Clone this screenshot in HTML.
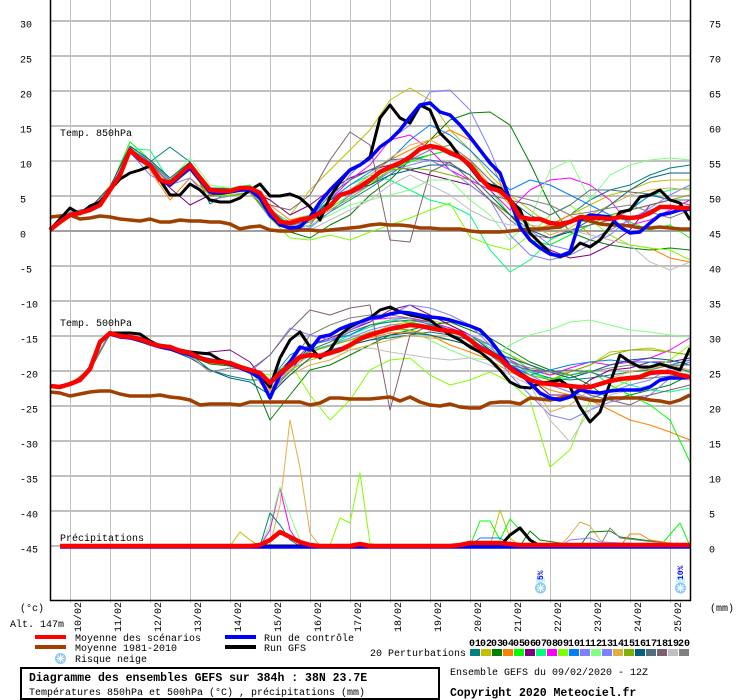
<!DOCTYPE html>
<html><head><meta charset="utf-8"><style>
html,body{margin:0;padding:0;background:#fff;width:740px;height:700px;overflow:hidden}
svg{display:block}
text{font-family:"Liberation Mono",monospace;font-size:10px;fill:#000}
</style></head><body>
<svg width="740" height="700" viewBox="0 0 740 700" xmlns="http://www.w3.org/2000/svg">
<rect width="740" height="700" fill="#fff"/>
<!-- vertical gridlines -->
<g stroke="#c0c0c0" stroke-width="1">
<line x1="70.5" y1="0" x2="70.5" y2="603"/><line x1="110.5" y1="0" x2="110.5" y2="603"/><line x1="150.5" y1="0" x2="150.5" y2="603"/><line x1="190.5" y1="0" x2="190.5" y2="603"/><line x1="230.5" y1="0" x2="230.5" y2="603"/><line x1="270.5" y1="0" x2="270.5" y2="603"/><line x1="310.5" y1="0" x2="310.5" y2="603"/><line x1="350.5" y1="0" x2="350.5" y2="603"/><line x1="390.5" y1="0" x2="390.5" y2="603"/><line x1="430.5" y1="0" x2="430.5" y2="603"/><line x1="470.5" y1="0" x2="470.5" y2="603"/><line x1="510.5" y1="0" x2="510.5" y2="603"/><line x1="550.5" y1="0" x2="550.5" y2="603"/><line x1="590.5" y1="0" x2="590.5" y2="603"/><line x1="630.5" y1="0" x2="630.5" y2="603"/><line x1="670.5" y1="0" x2="670.5" y2="603"/>
</g>
<!-- horizontal gridlines -->
<g stroke="#c0c0c0" stroke-width="2">
<line x1="51" y1="21" x2="690" y2="21"/><line x1="51" y1="56" x2="690" y2="56"/><line x1="51" y1="91" x2="690" y2="91"/><line x1="51" y1="126" x2="690" y2="126"/><line x1="51" y1="161" x2="690" y2="161"/><line x1="51" y1="196" x2="690" y2="196"/><line x1="51" y1="266" x2="690" y2="266"/><line x1="51" y1="301" x2="690" y2="301"/><line x1="51" y1="336" x2="690" y2="336"/><line x1="51" y1="371" x2="690" y2="371"/><line x1="51" y1="406" x2="690" y2="406"/><line x1="51" y1="441" x2="690" y2="441"/><line x1="51" y1="476" x2="690" y2="476"/><line x1="51" y1="511" x2="690" y2="511"/><line x1="51" y1="546" x2="690" y2="546"/>
</g>
<line x1="51" y1="231" x2="690" y2="231" stroke="#a0a0a0" stroke-width="2"/>

<!-- 850 hPa perturbations -->
<g fill="none" stroke-width="1" stroke-linejoin="round">
<polyline stroke="#008080" points="50,230 70,214 90,209 110,188 130,147 150,162 170,147 190,162 210,204 230,190 250,186 270,212 290,228 310,226 330,212 350,200 370,188 390,175 410,160 430,155 450,150 470,160 490,180 510,200 530,215 550,225 570,215 590,200 610,190 630,185 650,175 670,168 690,165"/>
<polyline stroke="#c0c000" points="50,231 70,214 90,210 110,190 130,150 150,165 170,186 190,168 210,193 230,193 250,190 270,200 290,215 310,190 330,170 350,150 370,130 390,100 410,88 430,100 450,130 470,150 490,175 510,195 530,210 550,225 570,215 590,205 610,195 630,190 650,182 670,180 690,180"/>
<polyline stroke="#008000" points="50,230 70,216 90,211 110,191 130,152 150,166 170,184 190,170 210,195 230,195 250,192 270,215 290,232 310,238 330,225 350,215 370,195 390,180 410,160 430,140 450,120 470,113 490,112 510,125 530,163 550,205 570,232 590,240 610,245 630,248 650,250 670,248 690,250"/>
<polyline stroke="#ff8000" points="50,229 70,213 90,208 110,186 130,150 150,170 170,200 190,178 210,195 230,192 250,190 270,205 290,220 310,215 330,205 350,190 370,175 390,160 410,150 430,140 450,130 470,140 490,160 510,205 530,230 550,225 570,215 590,235 610,240 630,245 650,248 670,258 690,262"/>
<polyline stroke="#00ff00" points="50,229 70,212 90,209 110,188 130,142 150,160 170,180 190,163 210,188 230,188 250,185 270,212 290,225 310,222 330,208 350,195 370,183 390,170 410,162 430,155 450,150 470,160 490,190 510,215 530,240 550,245 570,235 590,225 610,215 630,222 650,230 670,225 690,238"/>
<polyline stroke="#800080" points="50,230 70,214 90,211 110,190 130,150 150,168 170,188 190,205 210,195 230,192 250,190 270,200 290,215 310,205 330,190 350,178 370,170 390,165 410,170 430,175 450,180 470,185 490,200 510,215 530,235 550,250 570,258 590,255 610,245 630,230 650,205 670,200 690,200"/>
<polyline stroke="#00ff80" points="50,229 70,212 90,209 110,188 130,149 150,150 170,182 190,164 210,188 230,189 250,185 270,210 290,222 310,215 330,200 350,185 370,175 390,180 410,190 430,200 450,205 470,215 490,250 510,272 530,260 550,240 570,230 590,225 610,220 630,208 650,196 670,190 690,188"/>
<polyline stroke="#ff00ff" points="50,230 70,214 90,210 110,189 130,148 150,162 170,184 190,164 210,192 230,192 250,190 270,212 290,230 310,225 330,200 350,180 370,165 390,140 410,135 430,150 450,170 470,180 490,190 510,210 530,190 550,180 570,178 590,185 610,200 630,225 650,220 670,210 690,200"/>
<polyline stroke="#80ff00" points="50,230 70,215 90,210 110,191 130,152 150,168 170,186 190,170 210,196 230,195 250,192 270,218 290,238 310,240 330,235 350,240 370,232 390,225 410,218 430,210 450,203 470,237 490,245 510,250 530,235 550,215 570,205 590,220 610,235 630,245 650,248 670,250 690,260"/>
<polyline stroke="#0080ff" points="50,229 70,213 90,209 110,188 130,148 150,163 170,183 190,166 210,190 230,190 250,188 270,215 290,226 310,218 330,200 350,185 370,172 390,160 410,140 430,125 450,135 470,150 490,170 510,190 530,180 550,185 570,195 590,205 610,215 630,210 650,195 670,200 690,200"/>
<polyline stroke="#8080ff" points="50,229 70,212 90,208 110,189 130,152 150,175 170,185 190,178 210,200 230,196 250,192 270,218 290,230 310,220 330,200 350,175 370,155 390,140 410,125 430,92 450,90 470,110 490,150 510,200 530,230 550,245 570,250 590,240 610,230 630,220 650,208 670,195 690,185"/>
<polyline stroke="#80ff80" points="50,230 70,214 90,209 110,188 130,148 150,160 170,180 190,158 210,185 230,188 250,186 270,215 290,232 310,225 330,215 350,205 370,200 390,195 410,190 430,180 450,180 470,200 490,215 510,240 530,220 550,170 570,160 590,200 610,175 630,165 650,160 670,158 690,160"/>
<polyline stroke="#7f7fff" points="50,230 70,213 90,210 110,190 130,150 150,164 170,182 190,165 210,190 230,191 250,188 270,215 290,230 310,228 330,212 350,195 370,185 390,172 410,165 430,160 450,170 470,185 490,200 510,235 530,255 550,260 570,255 590,245 610,235 630,218 650,210 670,205 690,210"/>
<polyline stroke="#e0b040" points="50,230 70,214 90,209 110,189 130,149 150,165 170,185 190,168 210,192 230,193 250,190 270,212 290,226 310,220 330,205 350,190 370,175 390,158 410,145 430,140 450,150 470,160 490,185 510,205 530,225 550,235 570,228 590,215 610,205 630,195 650,190 670,188 690,190"/>
<polyline stroke="#80b000" points="50,230 70,215 90,211 110,191 130,152 150,168 170,187 190,170 210,196 230,196 250,193 270,216 290,228 310,222 330,210 350,198 370,185 390,170 410,168 430,170 450,175 470,180 490,200 510,215 530,225 550,228 570,220 590,218 610,215 630,210 650,205 670,200 690,195"/>
<polyline stroke="#006080" points="50,229 70,213 90,208 110,187 130,146 150,160 170,178 190,162 210,188 230,189 250,187 270,213 290,229 310,220 330,200 350,190 370,185 390,175 410,170 430,165 450,165 470,175 490,195 510,215 530,230 550,238 570,232 590,220 610,205 630,190 650,178 670,173 690,173"/>
<polyline stroke="#507080" points="50,230 70,214 90,209 110,190 130,150 150,162 170,180 190,165 210,192 230,192 250,188 270,210 290,225 310,218 330,195 350,180 370,170 390,160 410,158 430,160 450,163 470,175 490,195 510,200 530,205 550,215 570,205 590,190 610,190 630,192 650,194 670,200 690,200"/>
<polyline stroke="#806070" points="50,230 70,214 90,210 110,190 130,150 150,164 170,184 190,168 210,193 230,193 250,190 270,205 290,210 310,195 330,160 350,132 370,145 390,240 410,242 430,172 450,162 470,180 490,200 510,220 530,235 550,238 570,230 590,225 610,220 630,210 650,205 670,200 690,205"/>
<polyline stroke="#c0c0c0" points="50,229 70,213 90,209 110,189 130,149 150,165 170,185 190,168 210,193 230,193 250,190 270,214 290,232 310,230 330,220 350,210 370,200 390,185 410,175 430,185 450,195 470,210 490,220 510,225 530,225 550,228 570,230 590,235 610,240 630,245 650,262 670,270 690,262"/>
<polyline stroke="#808080" points="50,230 70,214 90,210 110,190 130,150 150,163 170,183 190,166 210,191 230,191 250,189 270,212 290,226 310,220 330,205 350,190 370,178 390,168 410,160 430,150 450,145 470,160 490,180 510,195 530,200 550,205 570,215 590,212 610,208 630,205 650,212 670,218 690,210"/>
</g>

<!-- 500 hPa perturbations -->
<g fill="none" stroke-width="1" stroke-linejoin="round">
<polyline stroke="#008080" points="50,386 70,384 90,369 110,334 130,338 150,343 170,347 190,354 210,370 230,376 250,380 270,380 290,360 310,355 330,352 350,345 370,340 390,338 410,335 430,332 450,335 470,340 490,350 510,362 530,372 550,378 570,380 590,378 610,375 630,372 650,370 670,365 690,372"/>
<polyline stroke="#c0c000" points="50,386 70,384 90,368 110,333 130,337 150,342 170,346 190,352 210,360 230,362 250,368 270,395 290,370 310,360 330,355 350,348 370,335 390,325 410,322 430,320 450,325 470,335 490,345 510,355 530,365 550,375 570,372 590,365 610,352 630,350 650,348 670,352 690,355"/>
<polyline stroke="#008000" points="50,387 70,385 90,370 110,334 130,338 150,345 170,349 190,356 210,364 230,366 250,372 270,420 290,395 310,370 330,365 350,355 370,345 390,335 410,330 430,325 450,322 470,330 490,338 510,350 530,362 550,370 570,375 590,385 610,400 630,395 650,390 670,385 690,375"/>
<polyline stroke="#ff8000" points="50,386 70,384 90,369 110,333 130,337 150,343 170,347 190,353 210,360 230,362 250,369 270,390 290,368 310,352 330,345 350,340 370,338 390,333 410,332 430,335 450,345 470,352 490,360 510,372 530,380 550,390 570,395 590,400 610,410 630,420 650,425 670,432 690,440"/>
<polyline stroke="#00ff00" points="50,386 70,384 90,369 110,333 130,338 150,344 170,348 190,354 210,362 230,363 250,371 270,385 290,360 310,350 330,345 350,335 370,325 390,320 410,322 430,326 450,330 470,338 490,345 510,355 530,370 550,380 570,375 590,370 610,385 630,395 650,405 670,420 690,462"/>
<polyline stroke="#800080" points="50,386 70,385 90,370 110,334 130,338 150,343 170,348 190,355 210,352 230,350 250,362 270,388 290,372 310,345 330,338 350,330 370,322 390,310 410,305 430,315 450,325 470,335 490,350 510,365 530,378 550,395 570,395 590,380 610,370 630,368 650,362 670,362 690,358"/>
<polyline stroke="#00ff80" points="50,386 70,384 90,369 110,333 130,337 150,343 170,347 190,353 210,361 230,363 250,370 270,380 290,362 310,350 330,345 350,335 370,327 390,320 410,318 430,322 450,328 470,335 490,348 510,362 530,372 550,380 570,378 590,372 610,378 630,385 650,390 670,392 690,388"/>
<polyline stroke="#ff00ff" points="50,386 70,384 90,369 110,333 130,337 150,342 170,346 190,352 210,360 230,362 250,370 270,395 290,365 310,345 330,340 350,330 370,320 390,318 410,318 430,322 450,328 470,335 490,345 510,360 530,370 550,375 570,368 590,362 610,365 630,362 650,358 670,350 690,338"/>
<polyline stroke="#80ff00" points="50,387 70,385 90,370 110,334 130,339 150,344 170,349 190,355 210,363 230,365 250,372 270,375 290,363 310,395 330,420 350,400 370,370 390,360 410,358 430,375 450,385 470,380 490,372 510,382 530,400 550,467 570,450 590,400 610,390 630,380 650,370 670,360 690,345"/>
<polyline stroke="#0080ff" points="50,386 70,384 90,369 110,333 130,337 150,343 170,347 190,353 210,360 230,362 250,369 270,380 290,355 310,345 330,340 350,335 370,325 390,322 410,320 430,324 450,330 470,338 490,352 510,365 530,375 550,370 570,365 590,362 610,360 630,362 650,362 670,365 690,360"/>
<polyline stroke="#8080ff" points="50,386 70,384 90,369 110,333 130,337 150,343 170,347 190,353 210,361 230,364 250,372 270,355 290,328 310,335 330,340 350,330 370,320 390,315 410,305 430,308 450,315 470,325 490,345 510,375 530,395 550,415 570,420 590,410 610,402 630,398 650,395 670,378 690,380"/>
<polyline stroke="#80ff80" points="50,386 70,384 90,369 110,333 130,337 150,343 170,347 190,353 210,361 230,363 250,370 270,385 290,365 310,350 330,345 350,340 370,335 390,330 410,330 430,340 450,350 470,358 490,360 510,345 530,335 550,330 570,322 590,320 610,325 630,330 650,332 670,335 690,337"/>
<polyline stroke="#7f7fff" points="50,386 70,384 90,369 110,333 130,337 150,343 170,347 190,353 210,361 230,364 250,371 270,392 290,372 310,352 330,345 350,338 370,330 390,325 410,325 430,328 450,330 470,335 490,345 510,360 530,375 550,385 570,392 590,398 610,392 630,385 650,380 670,368 690,362"/>
<polyline stroke="#e0b040" points="50,386 70,384 90,369 110,333 130,337 150,343 170,347 190,353 210,361 230,364 250,372 270,392 290,375 310,365 330,360 350,350 370,345 390,340 410,335 430,338 450,340 470,345 490,355 510,365 530,380 550,412 570,405 590,390 610,378 630,372 650,368 670,365 690,370"/>
<polyline stroke="#80b000" points="50,386 70,384 90,369 110,333 130,337 150,343 170,347 190,353 210,361 230,363 250,370 270,388 290,372 310,352 330,346 350,340 370,332 390,328 410,330 430,335 450,340 470,345 490,355 510,368 530,375 550,380 570,372 590,365 610,355 630,350 650,350 670,352 690,355"/>
<polyline stroke="#006080" points="50,386 70,384 90,370 110,334 130,339 150,345 170,350 190,358 210,370 230,378 250,382 270,395 290,375 310,358 330,350 350,345 370,340 390,335 410,333 430,335 450,340 470,345 490,352 510,358 530,365 550,372 570,378 590,372 610,365 630,360 650,358 670,360 690,365"/>
<polyline stroke="#507080" points="50,386 70,384 90,369 110,333 130,337 150,343 170,347 190,353 210,362 230,364 250,371 270,385 290,368 310,350 330,342 350,332 370,325 390,322 410,320 430,322 450,330 470,340 490,355 510,365 530,370 550,372 570,370 590,372 610,378 630,380 650,378 670,376 690,375"/>
<polyline stroke="#806070" points="50,386 70,384 90,369 110,333 130,337 150,343 170,347 190,353 210,361 230,363 250,370 270,355 290,330 310,310 330,315 350,308 370,305 390,410 410,335 430,325 450,330 470,340 490,355 510,370 530,380 550,382 570,385 590,395 610,400 630,405 650,395 670,390 690,385"/>
<polyline stroke="#c0c0c0" points="50,386 70,384 90,369 110,333 130,337 150,343 170,347 190,353 210,362 230,364 250,372 270,388 290,370 310,355 330,352 350,350 370,348 390,352 410,355 430,358 450,360 470,358 490,365 510,375 530,385 550,420 570,442 590,410 610,395 630,390 650,385 670,378 690,372"/>
<polyline stroke="#808080" points="50,386 70,384 90,369 110,333 130,337 150,343 170,347 190,356 210,372 230,368 250,370 270,385 290,365 310,335 330,325 350,318 370,315 390,315 410,318 430,325 450,335 470,345 490,355 510,362 530,368 550,372 570,375 590,372 610,368 630,365 650,370 670,365 690,365"/>
</g>

<!-- precipitation perturbations -->
<g fill="none" stroke-width="1" stroke-linejoin="round">
<polyline stroke="#e0b040" points="60,546 260,546 270,545 280,505 290,420 300,468 310,533 320,546 560,546 570,535 580,522 590,526 600,540 610,546 690,546"/>
<polyline stroke="#80ff00" points="60,546 320,546 330,545 340,518 350,523 360,473 370,543 380,546 690,546"/>
<polyline stroke="#ff00ff" points="60,546 260,546 270,530 280,488 290,530 300,545 690,546"/>
<polyline stroke="#80ff80" points="60,546 260,546 270,525 280,487 290,515 300,540 310,546 690,546"/>
<polyline stroke="#008080" points="60,546 260,546 270,513 280,525 290,540 300,546 690,546"/>
<polyline stroke="#c0c000" points="60,546 230,546 240,532 250,540 260,546 490,546 500,510 510,538 520,546 690,546"/>
<polyline stroke="#00ff00" points="60,546 470,546 480,521 490,521 500,540 510,519 520,530 530,540 540,546 660,546 680,523 690,546"/>
<polyline stroke="#0080ff" points="60,546 470,546 480,538 500,538 510,544 690,546"/>
<polyline stroke="#008000" points="60,546 520,546 530,531 540,540 580,546 590,532 610,531 620,537 690,546"/>
<polyline stroke="#ff8000" points="60,546 620,546 630,534 640,534 650,540 690,546"/>
<polyline stroke="#808080" points="60,546 600,546 610,528 620,538 690,546"/>
<polyline stroke="#8080ff" points="60,546 560,546 570,540 590,538 600,542 690,546"/>
</g>

<!-- climatology -->
<g fill="none" stroke="#a04000" stroke-width="3.5" stroke-linejoin="round">
<polyline points="50,217 60,216 70,215 80,219 90,218 100,216 110,217 120,219 130,220 140,221 150,219 160,222 170,222 180,220 190,221 200,221 210,222 220,222 230,224 240,229 250,227 260,226 270,230 280,231 290,231 300,230 310,230 320,231 330,230 340,229 350,228 360,227 370,225 380,224 390,225 400,225 410,226 420,228 430,228 440,229 450,229 460,229 470,231 480,232 490,232 500,232 510,231 520,230 530,229 540,229 550,228 560,227 570,222 580,219 590,221 600,224 610,225 620,225 630,226 640,228 650,228 660,227 670,228 680,229 690,229"/>
<polyline points="50,392 60,393 70,396 80,394 90,392 100,391 110,391 120,394 130,396 140,396 150,396 160,395 170,397 180,398 190,400 200,405 210,404 220,404 230,404 240,405 250,402 260,402 270,402 280,402 290,402 300,402 310,405 320,403 330,398 340,398 350,399 360,399 370,399 380,398 390,397 400,401 410,397 420,402 430,405 440,406 450,404 460,407 470,408 480,408 490,403 500,402 510,402 520,404 530,398 540,399 550,400 560,398 570,396 580,398 590,400 600,401 610,398 620,398 630,398 640,398 650,400 660,401 670,403 680,400 690,395"/>
</g>

<!-- GFS run (black) -->
<g fill="none" stroke="#000" stroke-width="3" stroke-linejoin="round">
<polyline points="50,230 60,219 70,208 80,214 90,206 100,202 110,190 120,179 130,173 140,170 150,166 160,180 170,195 180,195 190,184 200,190 210,200 220,202 230,202 240,198 250,190 260,184 270,196 280,196 290,194 300,198 310,207 320,220 330,197 340,182 350,170 360,165 370,157 380,118 390,105 400,118 410,123 420,105 430,110 440,133 450,143 460,157 470,167 480,180 490,185 500,188 510,200 520,210 530,233 540,243 550,253 560,257 570,253 580,243 590,247 600,240 610,227 620,212 630,210 640,197 650,195 660,190 670,200 680,203 690,220"/>
<polyline points="50,386 60,387 70,384 80,380 90,368 100,341 110,333 120,333 130,333 140,334 150,341 160,346 170,348 180,350 190,352 200,353 210,354 220,360 230,363 240,367 250,370 260,375 270,387 280,358 290,340 300,332 310,347 320,358 330,350 340,335 350,327 360,322 370,318 380,310 390,307 400,312 410,315 420,317 430,320 440,328 450,335 460,340 470,347 480,352 490,360 500,370 510,382 520,387 530,388 540,383 550,382 560,380 570,387 580,407 590,422 600,412 610,383 620,355 630,362 640,367 650,367 660,364 670,367 680,370 690,348"/>
<polyline points="60,546 500,546 510,535 520,528 530,540 540,546 690,546"/>
</g>

<!-- control run (blue) -->
<g fill="none" stroke="#0000ff" stroke-width="3.5" stroke-linejoin="round">
<polyline points="50,229 60,222 70,215 80,213 90,209 100,205 110,190 120,174 130,151 140,160 150,165 160,180 170,185 180,176 190,168 200,180 210,192 220,193 230,192 240,190 250,190 260,198 270,215 280,225 290,228 300,227 310,217 320,202 330,190 340,180 350,170 360,165 370,158 380,147 390,140 400,130 410,117 420,105 430,103 440,112 450,115 460,125 470,137 480,150 490,163 500,173 510,200 520,227 530,240 540,248 550,254 560,256 570,252 580,220 590,215 600,216 610,217 620,227 630,233 640,232 650,223 660,215 670,213 680,210 690,209"/>
<polyline points="50,386 60,387 70,384 80,380 90,368 100,342 110,334 120,337 130,338 140,340 150,344 160,347 170,349 180,352 190,355 200,358 210,360 220,362 230,364 240,368 250,372 260,378 270,398 280,375 290,362 300,347 310,350 320,337 330,335 340,329 350,325 360,322 370,318 380,317 390,314 400,312 410,313 420,315 430,317 440,318 450,320 460,323 470,326 480,330 490,340 500,353 510,367 520,373 530,383 540,393 550,398 560,400 570,397 580,390 590,392 600,393 610,391 620,390 630,390 640,390 650,387 660,380 670,378 680,378 690,377"/>
<polyline points="60,547 690,547"/>
</g>

<!-- ensemble mean (red) -->
<g fill="none" stroke="#ff0000" stroke-width="4.5" stroke-linejoin="round">
<polyline points="50,230 60,222 70,215 80,213 90,210 100,205 110,190 120,175 130,150 140,159 150,165 160,180 170,183 180,174 190,165 200,178 210,190 220,191 230,191 240,188 250,188 260,193 270,210 280,222 290,223 300,220 310,218 320,213 330,206 340,195 350,192 360,187 370,180 380,172 390,167 400,163 410,157 420,149 430,146 440,148 450,153 460,157 470,165 480,178 490,188 500,191 510,200 520,217 530,219 540,219 550,223 560,224 570,222 580,217 590,218 600,218 610,219 620,217 630,218 640,217 650,213 660,207 670,207 680,208 690,208"/>
<polyline points="50,386 60,387 70,384 80,380 90,369 100,342 110,333 120,336 130,337 140,339 150,343 160,346 170,347 180,351 190,353 200,358 210,361 220,362 230,363 240,367 250,370 260,373 270,383 280,373 290,365 300,357 310,355 320,356 330,353 340,350 350,345 360,339 370,335 380,332 390,329 400,327 410,325 420,326 430,328 440,330 450,331 460,333 470,340 480,348 490,353 500,358 510,368 520,375 530,380 540,383 550,384 560,385 570,386 580,387 590,387 600,384 610,381 620,379 630,378 640,377 650,373 660,372 670,372 680,375 690,377"/>
<polyline points="60,546 250,546 260,545 270,540 280,532 290,537 300,542 310,545 320,546 350,546 360,544 370,546 450,546 460,545 470,543 500,543 510,544 520,545 560,545 690,545"/>
</g>

<!-- axes -->
<line x1="50.5" y1="0" x2="50.5" y2="601" stroke="#000" stroke-width="1.5"/>
<line x1="690.5" y1="0" x2="690.5" y2="601" stroke="#000" stroke-width="1.5"/>
<line x1="50" y1="600.5" x2="691" y2="600.5" stroke="#000" stroke-width="1.5"/>

<!-- panel titles -->
<text x="60" y="136">Temp. 850hPa</text>
<text x="60" y="326">Temp. 500hPa</text>
<text x="60" y="541">Précipitations</text>

<!-- left axis labels -->
<g>
<text x="20" y="27.5">30</text><text x="20" y="62.5">25</text><text x="20" y="97.5">20</text><text x="20" y="132.5">15</text><text x="20" y="167.5">10</text><text x="20" y="202.5">5</text><text x="20" y="237.5">0</text><text x="20" y="272.5">-5</text><text x="20" y="307.5">-10</text><text x="20" y="342.5">-15</text><text x="20" y="377.5">-20</text><text x="20" y="412.5">-25</text><text x="20" y="447.5">-30</text><text x="20" y="482.5">-35</text><text x="20" y="517.5">-40</text><text x="20" y="552.5">-45</text>
</g>
<!-- right axis labels -->
<g>
<text x="709" y="27.5">75</text><text x="709" y="62.5">70</text><text x="709" y="97.5">65</text><text x="709" y="132.5">60</text><text x="709" y="167.5">55</text><text x="709" y="202.5">50</text><text x="709" y="237.5">45</text><text x="709" y="272.5">40</text><text x="709" y="307.5">35</text><text x="709" y="342.5">30</text><text x="709" y="377.5">25</text><text x="709" y="412.5">20</text><text x="709" y="447.5">15</text><text x="709" y="482.5">10</text><text x="709" y="517.5">5</text><text x="709" y="552.5">0</text>
</g>

<!-- date labels -->
<g text-anchor="end">
<text transform="translate(81,602) rotate(-90)">10/02</text>
<text transform="translate(121,602) rotate(-90)">11/02</text>
<text transform="translate(161,602) rotate(-90)">12/02</text>
<text transform="translate(201,602) rotate(-90)">13/02</text>
<text transform="translate(241,602) rotate(-90)">14/02</text>
<text transform="translate(281,602) rotate(-90)">15/02</text>
<text transform="translate(321,602) rotate(-90)">16/02</text>
<text transform="translate(361,602) rotate(-90)">17/02</text>
<text transform="translate(401,602) rotate(-90)">18/02</text>
<text transform="translate(441,602) rotate(-90)">19/02</text>
<text transform="translate(481,602) rotate(-90)">20/02</text>
<text transform="translate(521,602) rotate(-90)">21/02</text>
<text transform="translate(561,602) rotate(-90)">22/02</text>
<text transform="translate(601,602) rotate(-90)">23/02</text>
<text transform="translate(641,602) rotate(-90)">24/02</text>
<text transform="translate(681,602) rotate(-90)">25/02</text>
</g>

<text x="20" y="611">(°c)</text>
<text x="10" y="627">Alt. 147m</text>
<text x="710" y="611">(mm)</text>

<!-- snow risk icons -->
<rect x="536" y="578" width="9" height="5" fill="#c8f4ff"/>
<text transform="translate(543,580) rotate(-90)" style="font-size:8px;font-weight:bold;fill:#0000ff">5%</text>
<g transform="translate(540.5,588)">
<circle r="5.5" fill="#8cc8f0"/>
<g stroke="#fff" stroke-width="1"><line x1="-4" y1="0" x2="4" y2="0"/><line x1="0" y1="-4" x2="0" y2="4"/><line x1="-3" y1="-3" x2="3" y2="3"/><line x1="-3" y1="3" x2="3" y2="-3"/></g>
</g>
<rect x="676" y="578" width="9" height="5" fill="#c8f4ff"/>
<text transform="translate(683,580) rotate(-90)" style="font-size:8px;font-weight:bold;fill:#0000ff">10%</text>
<g transform="translate(680.5,588)">
<circle r="5.5" fill="#8cc8f0"/>
<g stroke="#fff" stroke-width="1"><line x1="-4" y1="0" x2="4" y2="0"/><line x1="0" y1="-4" x2="0" y2="4"/><line x1="-3" y1="-3" x2="3" y2="3"/><line x1="-3" y1="3" x2="3" y2="-3"/></g>
</g>

<!-- legend -->
<rect x="35" y="635" width="31" height="4" fill="#ff0000"/>
<text x="75" y="641">Moyenne des scénarios</text>
<rect x="35" y="645" width="31" height="4" fill="#a04000"/>
<text x="75" y="651">Moyenne 1981-2010</text>
<g transform="translate(60.5,658.5)">
<circle r="5.5" fill="#8cc8f0"/>
<g stroke="#fff" stroke-width="1"><line x1="-4" y1="0" x2="4" y2="0"/><line x1="0" y1="-4" x2="0" y2="4"/><line x1="-3" y1="-3" x2="3" y2="3"/><line x1="-3" y1="3" x2="3" y2="-3"/></g>
</g>
<text x="75" y="662">Risque neige</text>
<rect x="225" y="635" width="31" height="4" fill="#0000ff"/>
<text x="264" y="641">Run de contrôle</text>
<rect x="225" y="645" width="31" height="4" fill="#000"/>
<text x="264" y="651">Run GFS</text>

<text x="370" y="656">20 Perturbations</text>
<g style="font-size:7px;font-weight:bold" text-anchor="middle">
<text x="475" y="646">01</text><text x="486" y="646">02</text><text x="497" y="646">03</text><text x="508" y="646">04</text><text x="519" y="646">05</text><text x="530" y="646">06</text><text x="541" y="646">07</text><text x="552" y="646">08</text><text x="563" y="646">09</text><text x="574" y="646">10</text><text x="585" y="646">11</text><text x="596" y="646">12</text><text x="607" y="646">13</text><text x="618" y="646">14</text><text x="629" y="646">15</text><text x="640" y="646">16</text><text x="651" y="646">17</text><text x="662" y="646">18</text><text x="673" y="646">19</text><text x="684" y="646">20</text>
</g>
<g>
<rect x="470" y="649" width="10" height="7" fill="#008080"/><rect x="481" y="649" width="10" height="7" fill="#c0c000"/><rect x="492" y="649" width="10" height="7" fill="#008000"/><rect x="503" y="649" width="10" height="7" fill="#ff8000"/><rect x="514" y="649" width="10" height="7" fill="#00ff00"/><rect x="525" y="649" width="10" height="7" fill="#800080"/><rect x="536" y="649" width="10" height="7" fill="#00ff80"/><rect x="547" y="649" width="10" height="7" fill="#ff00ff"/><rect x="558" y="649" width="10" height="7" fill="#80ff00"/><rect x="569" y="649" width="10" height="7" fill="#0080ff"/><rect x="580" y="649" width="10" height="7" fill="#8080ff"/><rect x="591" y="649" width="10" height="7" fill="#80ff80"/><rect x="602" y="649" width="10" height="7" fill="#7f7fff"/><rect x="613" y="649" width="10" height="7" fill="#e0b040"/><rect x="624" y="649" width="10" height="7" fill="#80b000"/><rect x="635" y="649" width="10" height="7" fill="#006080"/><rect x="646" y="649" width="10" height="7" fill="#507080"/><rect x="657" y="649" width="10" height="7" fill="#806070"/><rect x="668" y="649" width="10" height="7" fill="#c0c0c0"/><rect x="679" y="649" width="10" height="7" fill="#808080"/>
</g>

<!-- bottom info box -->
<rect x="21" y="668" width="418" height="31" fill="none" stroke="#000" stroke-width="2"/>
<text x="29" y="681" style="font-size:11.5px;font-weight:bold">Diagramme des ensembles GEFS sur 384h : 38N 23.7E</text>
<text x="29" y="695">Températures 850hPa et 500hPa (°C) , précipitations (mm)</text>
<text x="450" y="675">Ensemble GEFS du 09/02/2020 - 12Z</text>
<text x="450" y="696" style="font-size:11.5px;font-weight:bold">Copyright 2020 Meteociel.fr</text>
</svg>
</body></html>
